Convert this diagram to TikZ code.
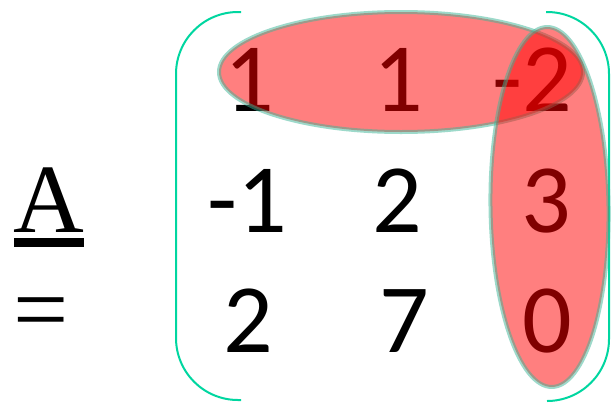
\documentclass[tikz,border=0pt]{standalone}
\usepackage{fontspec}
\setmainfont{Liberation Serif}
\newfontfamily\calib{Carlito}
\definecolor{parcol}{RGB}{0,214,160}
\definecolor{rimcol}{RGB}{60,180,150}
\tikzset{
  num/.style={inner sep=0pt, anchor=base, font=\calib\fontsize{98}{100}\selectfont},
  lbl/.style={inner sep=0pt, anchor=base, font=\fontsize{98}{100}\selectfont},
  paren/.style={draw=parcol, line width=2pt, rounded corners=62pt},
  hl/.style={fill=red, fill opacity=0.5, draw=rimcol, draw opacity=0.5, line width=4pt}
}
\begin{document}
\begin{tikzpicture}[x=1pt,y=1pt]
\useasboundingbox (0,0) rectangle (615,-402);
% left label
\node[lbl] (A) at (48.5,-232) {A};
\fill (14,-238) rectangle (84,-247);
\node[lbl] (eq) at (41.5,-342) {=};
% parentheses
\draw[paren] (241,-12) -- (176,-12) -- (176,-400) -- (241,-400);
\draw[paren] (546,-12) -- (609,-12) -- (609,-401) -- (547,-401);
% entries
\node[num] (a11) at (249.5,-111) {1};
\node[num] (a12) at (398.5,-111) {1};
\node[num] (a13) at (532,-111) {-2};
\node[num] (a21) at (247,-232) {-1};
\node[num] (a22) at (397,-232) {2};
\node[num] (a23) at (546,-232) {3};
\node[num] (a31) at (248,-352) {2};
\node[num] (a32) at (404,-352) {7};
\node[num] (a33) at (547.5,-352) {0};
% highlights
\draw[hl] (401,-72) ellipse [x radius=182pt, y radius=60pt];
\draw[hl, rotate around={0.8:(549.5,-207)}] (549.5,-207) ellipse [x radius=59pt, y radius=180pt];
\end{tikzpicture}
\end{document}
